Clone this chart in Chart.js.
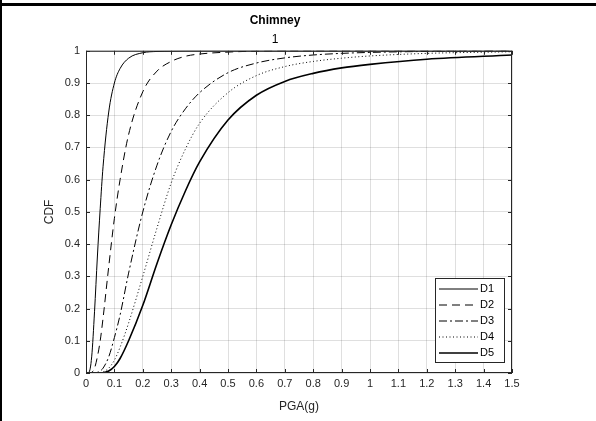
<!DOCTYPE html>
<html>
<head>
<meta charset="utf-8">
<script src="https://cdn.jsdelivr.net/npm/chart.js@4"></script>
<style>
  body { margin: 0; background: #fff; }
  #wrap { width: 596px; height: 421px; position: relative; }
</style>
</head>
<body>
<div id="wrap"><canvas id="cdf" width="596" height="421"></canvas></div>
<script>
// PGA sample points (g) and CDF
const pga = [0, 0.01, 0.02, 0.03, 0.04, 0.05, 0.06, 0.08, 0.1, 0.12, 0.15, 0.2, 0.25, 0.3, 0.35, 0.4, 0.5, 0.6, 0.7, 0.8, 0.9, 1.0, 1.2, 1.5];
const d1 = [0, 0.002, 0.05, 0.19, 0.36, 0.51, 0.64, 0.81, 0.90, 0.945, 0.977, 0.994, 0.998, 0.999, 1, 1, 1, 1, 1, 1, 1, 1, 1, 1];
const d2 = [0, 0, 0.002, 0.015, 0.05, 0.10, 0.17, 0.33, 0.48, 0.60, 0.74, 0.873, 0.937, 0.967, 0.983, 0.99, 0.996, 0.999, 1, 1, 1, 1, 1, 1];
const d3 = [0, 0, 0, 0, 0.002, 0.006, 0.015, 0.05, 0.11, 0.18, 0.31, 0.50, 0.645, 0.75, 0.82, 0.87, 0.932, 0.962, 0.978, 0.987, 0.992, 0.995, 0.998, 1];
const d4 = [0, 0, 0, 0, 0, 0, 0.003, 0.015, 0.04, 0.08, 0.155, 0.30, 0.45, 0.59, 0.695, 0.775, 0.87, 0.923, 0.951, 0.967, 0.977, 0.984, 0.992, 0.997];
const d5 = [0, 0, 0, 0, 0, 0, 0.001, 0.006, 0.02, 0.045, 0.10, 0.21, 0.34, 0.46, 0.565, 0.655, 0.785, 0.862, 0.905, 0.93, 0.947, 0.958, 0.974, 0.987];

const names = ['D1', 'D2', 'D3', 'D4', 'D5'];
const dashes = [[], [8, 5], [8, 3, 2, 3], [1, 2.5], []];
const widths = [1, 1, 1, 1, 1.6];

const pts = ys => pga.map((x, i) => ({ x: x, y: ys[i] }));

const datasets = [d1, d2, d3, d4, d5].map((ys, i) => ({
  label: names[i],
  data: pts(ys),
  borderColor: '#000',
  backgroundColor: '#000',
  borderWidth: widths[i],
  borderDash: dashes[i],
  pointRadius: 0,
  cubicInterpolationMode: 'monotone',
  fill: false
}));

const axisColor = '#262626';
const gridColor = 'rgba(38,38,38,0.15)';

// outer figure frame, axes box, inward ticks and the boxed legend
const matlabLook = {
  id: 'matlabLook',
  afterDraw(chart) {
    const ctx = chart.ctx;
    const a = chart.chartArea;
    const xs = chart.scales.x, ys = chart.scales.y;
    ctx.save();
    // figure frame
    ctx.fillStyle = '#000';
    ctx.fillRect(0, 3, 596, 3);
    ctx.fillRect(0, 0, 2, 421);

    // axes box
    ctx.strokeStyle = axisColor;
    ctx.lineWidth = 1;
    ctx.setLineDash([]);
    ctx.strokeRect(a.left + 0.5, a.top + 0.5, a.right - a.left - 1, a.bottom - a.top - 1);

    // inward tick marks
    ctx.beginPath();
    xs.ticks.forEach(t => {
      const px = Math.round(xs.getPixelForValue(t.value)) + 0.5;
      ctx.moveTo(px, a.bottom); ctx.lineTo(px, a.bottom - 4);
      ctx.moveTo(px, a.top); ctx.lineTo(px, a.top + 4);
    });
    ys.ticks.forEach(t => {
      const py = Math.round(ys.getPixelForValue(t.value)) + 0.5;
      ctx.moveTo(a.left, py); ctx.lineTo(a.left + 4, py);
      ctx.moveTo(a.right, py); ctx.lineTo(a.right - 4, py);
    });
    ctx.stroke();

    // legend
    const bw = 69, rowH = 16;
    const bh = rowH * chart.data.datasets.length + 4;
    const bx = a.right - 8 - bw, by = a.bottom - 11 - bh;
    ctx.fillStyle = '#fff';
    ctx.fillRect(bx, by, bw, bh);
    ctx.strokeStyle = axisColor;
    ctx.strokeRect(bx + 0.5, by + 0.5, bw, bh);
    ctx.font = '11px Arial, "Liberation Sans", sans-serif';
    ctx.textBaseline = 'middle';
    chart.data.datasets.forEach((ds, i) => {
      const cy = by + 11 + i * rowH;
      ctx.strokeStyle = '#000';
      ctx.lineWidth = ds.borderWidth;
      ctx.setLineDash(ds.borderDash);
      ctx.beginPath();
      ctx.moveTo(bx + 4, cy);
      ctx.lineTo(bx + 43, cy);
      ctx.stroke();
      ctx.setLineDash([]);
      ctx.fillStyle = '#000';
      ctx.fillText(ds.label, bx + 45, cy);
    });
    ctx.restore();
  }
};

new Chart(document.getElementById('cdf'), {
  type: 'line',
  data: { datasets: datasets },
  plugins: [matlabLook],
  options: {
    responsive: false,
    animation: false,
    layout: { padding: { left: 38, right: 84, top: 0, bottom: 0 } },
    plugins: {
      legend: { display: false },
      tooltip: { enabled: false },
      title: {
        display: true,
        text: 'Chimney',
        color: '#000',
        font: { family: 'Arial, "Liberation Sans", sans-serif', size: 12, weight: 'bold' },
        padding: { top: 13, bottom: 0 }
      },
      subtitle: {
        display: true,
        text: '1',
        color: '#000',
        font: { family: 'Arial, "Liberation Sans", sans-serif', size: 12 },
        padding: { top: 5, bottom: 4 }
      }
    },
    scales: {
      x: {
        type: 'linear',
        min: 0,
        max: 1.5,
        afterFit: s => { s.height = 48; },
        border: { display: false },
        grid: { color: gridColor, drawTicks: false },
        ticks: {
          stepSize: 0.1,
          padding: 4,
          color: axisColor,
          maxRotation: 0,
          autoSkip: false,
          font: { family: 'Arial, "Liberation Sans", sans-serif', size: 11 },
          callback: v => String(Math.round(v * 10) / 10)
        },
        title: {
          display: true,
          text: 'PGA(g)',
          color: axisColor,
          font: { family: 'Arial, "Liberation Sans", sans-serif', size: 12 },
          padding: { top: 0, bottom: 7 }
        }
      },
      y: {
        min: 0,
        max: 1,
        afterFit: s => { s.width = 48; },
        border: { display: false },
        grid: { color: gridColor, drawTicks: false },
        ticks: {
          stepSize: 0.1,
          padding: 6,
          color: axisColor,
          font: { family: 'Arial, "Liberation Sans", sans-serif', size: 11 },
          callback: v => String(Math.round(v * 10) / 10)
        },
        title: {
          display: true,
          text: 'CDF',
          color: axisColor,
          font: { family: 'Arial, "Liberation Sans", sans-serif', size: 12 },
          padding: { top: 4, bottom: 0 }
        }
      }
    }
  }
});
</script>
</body>
</html>
